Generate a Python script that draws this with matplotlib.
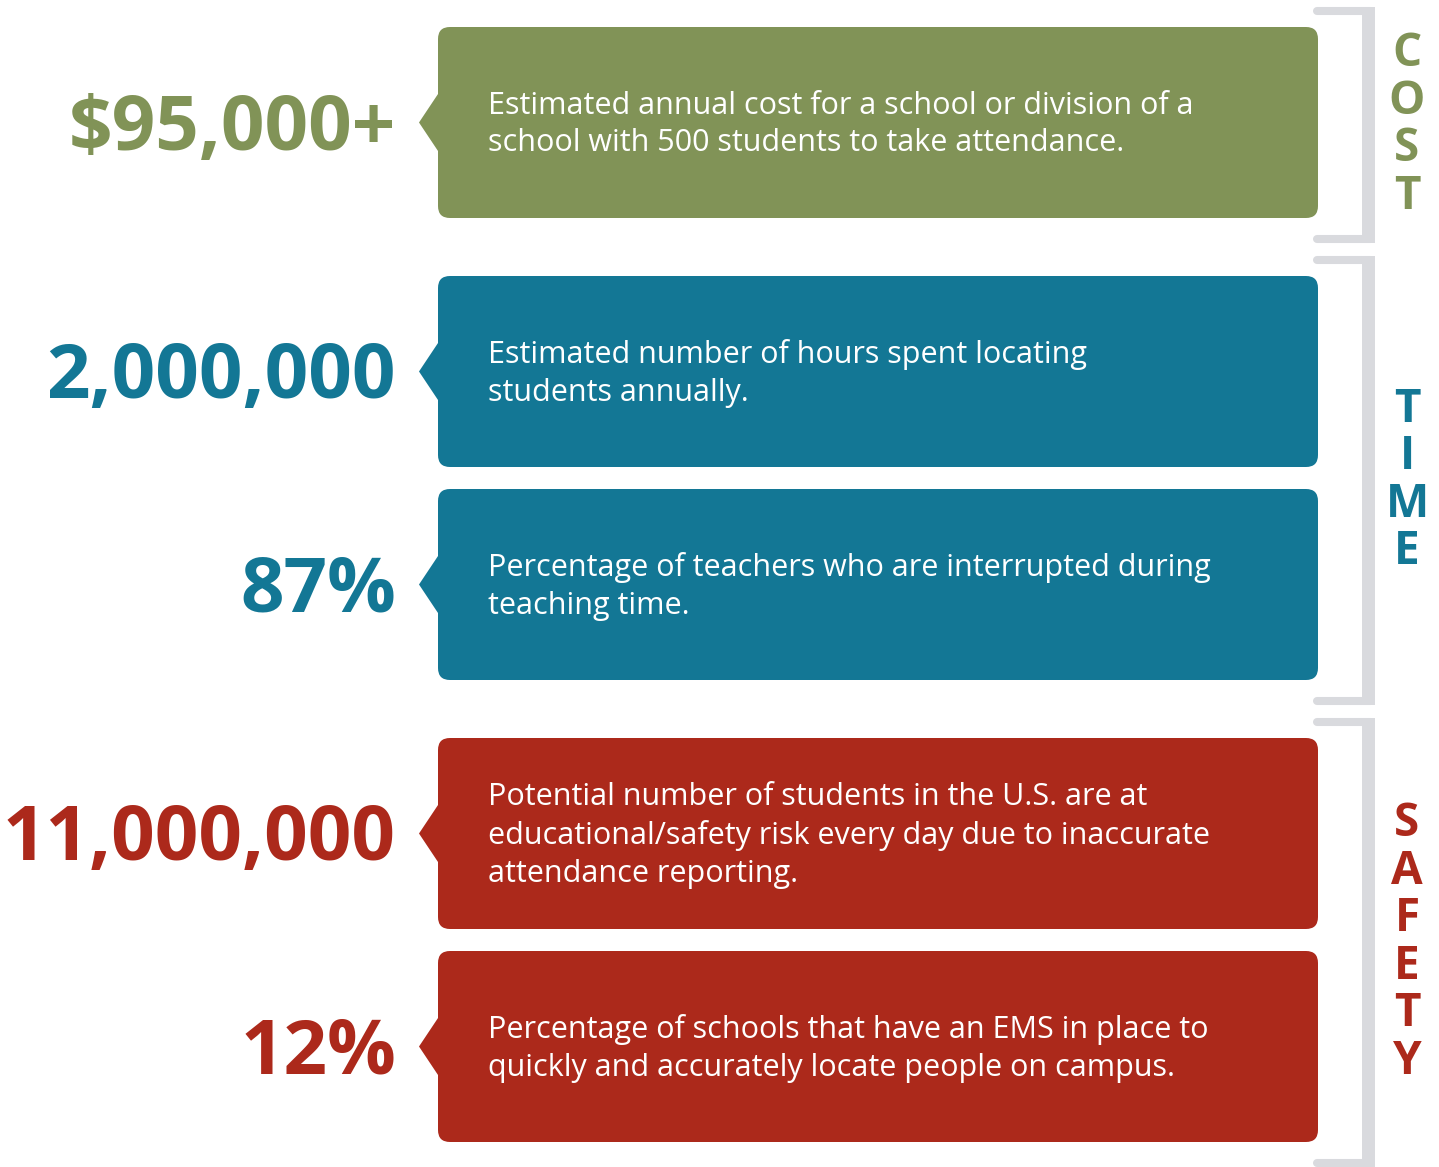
"""Attendance infographic: cost / time / safety stat cards."""
import matplotlib
matplotlib.use("Agg")
import matplotlib.pyplot as plt
from matplotlib.patches import FancyBboxPatch, Polygon, Rectangle

# ---- content -------------------------------------------------------------
stats = ["$95,000+", "2,000,000", "87%", "11,000,000", "12%"]
descriptions = [
    "Estimated annual cost for a school or division of a\nschool with 500 students to take attendance.",
    "Estimated number of hours spent locating\nstudents annually.",
    "Percentage of teachers who are interrupted during\nteaching time.",
    "Potential number of students in the U.S. are at\neducational/safety risk every day due to inaccurate\nattendance reporting.",
    "Percentage of schools that have an EMS in place to\nquickly and accurately locate people on campus.",
]
card_group = [0, 1, 1, 2, 2]
groups = ["COST", "TIME", "SAFETY"]
group_colors = ["#819357", "#137795", "#AC291B"]
BRACKET = "#D9DADE"

# ---- layout (pixels, y down) ---------------------------------------------
W, H = 1439, 1167
BOX_L, BOX_R, BOX_H = 438, 1318, 191
GAP_IN, GAP_OUT, TOP = 22, 58, 27

fig = plt.figure(figsize=(W / 100, H / 100), dpi=100)
ax = fig.add_axes([0, 0, 1, 1])
ax.set_xlim(0, W)
ax.set_ylim(H, 0)
ax.axis("off")
plt.rcParams["font.family"] = ["Open Sans", "DejaVu Sans"]

tops = []
y = TOP
for i, g in enumerate(card_group):
    if i > 0:
        y += GAP_IN if g == card_group[i - 1] else GAP_OUT
    tops.append(y)
    y += BOX_H

for i, (stat, desc, g) in enumerate(zip(stats, descriptions, card_group)):
    col = group_colors[g]
    top = tops[i]
    cy = top + BOX_H / 2
    ax.add_patch(FancyBboxPatch((BOX_L + 12, top + 12), BOX_R - BOX_L - 24,
                                BOX_H - 24, boxstyle="round,pad=12",
                                fc=col, ec="none"))
    ax.add_patch(Polygon([(BOX_L + 1, cy - 30), (BOX_L - 19, cy),
                          (BOX_L + 1, cy + 30)], closed=True, fc=col, ec="none"))
    ax.text(BOX_L + 50, cy + 2, desc, color="white", fontsize=22,
            ha="left", va="center", linespacing=1.33)
    ax.text(396, cy + 27, stat, color=col, fontsize=55, fontweight="bold",
            ha="right", va="baseline")

# side brackets with vertical group labels
for gi, name in enumerate(groups):
    idx = [i for i, g in enumerate(card_group) if g == gi]
    y0 = tops[idx[0]] - 16
    y1 = tops[idx[-1]] + BOX_H + 21
    ax.add_patch(Rectangle((1362, y0 - 4), 13, y1 - y0 + 8, fc=BRACKET, ec="none"))
    for yy in (y0, y1):
        ax.plot([1317, 1370], [yy, yy], color=BRACKET, lw=5.8,
                solid_capstyle="round")
    mid = (y0 + y1) / 2
    n = len(name)
    for k, ch in enumerate(name):
        ax.text(1407, mid + (k - (n - 1) / 2) * 47.5, ch, color=group_colors[gi],
                fontsize=33, fontweight="bold", ha="center", va="center")

fig.savefig("out.png", dpi=100)
